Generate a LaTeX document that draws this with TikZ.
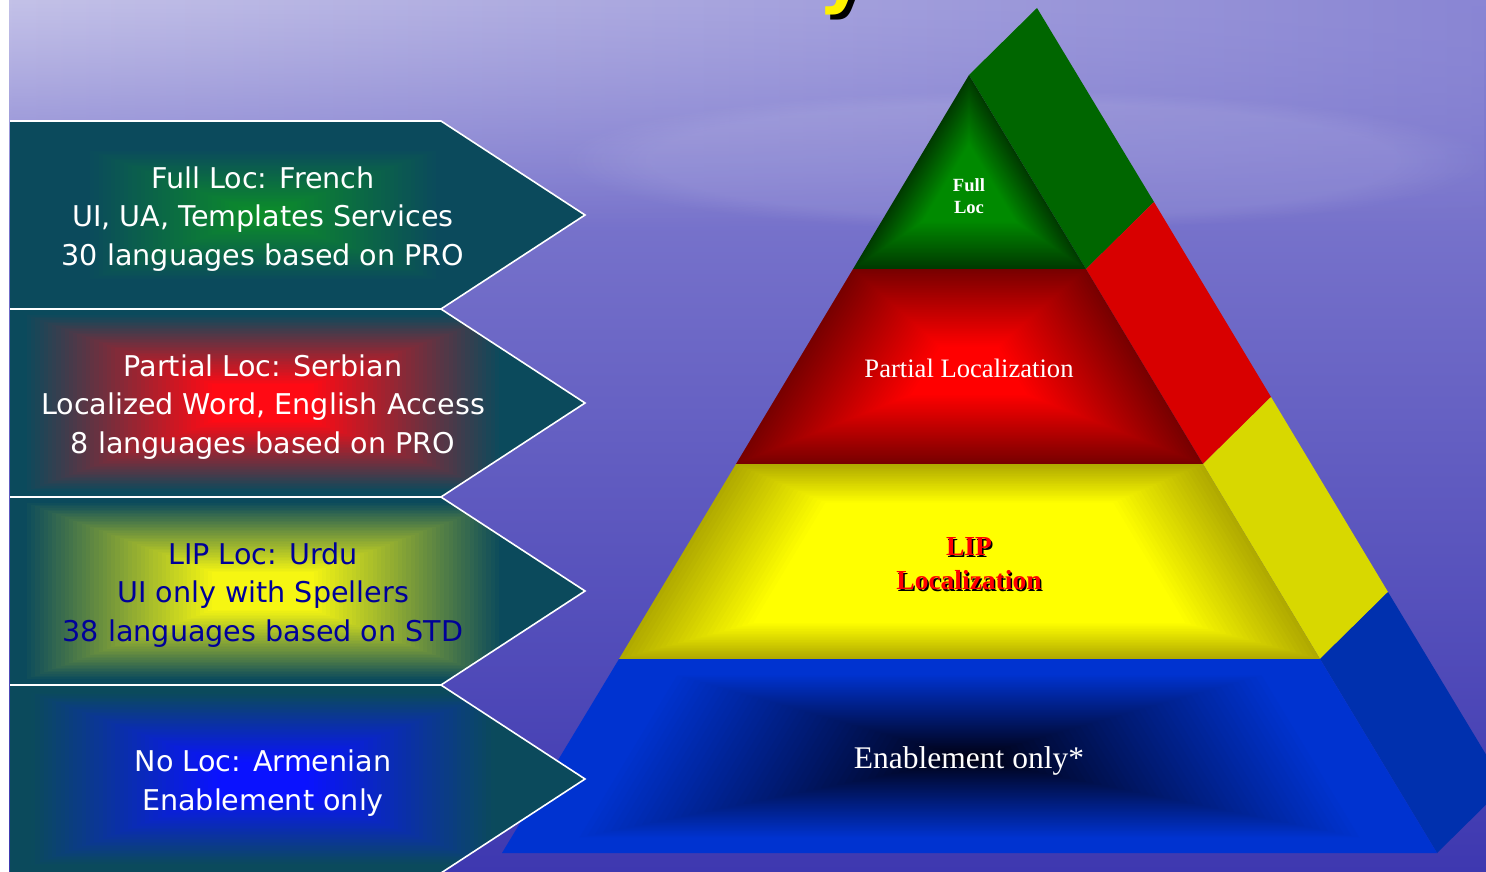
\documentclass[tikz,border=0pt]{standalone}
\usepackage{fontspec}
\usepackage{tikz}
\usetikzlibrary{fadings}

\newfontfamily\boxfont{DejaVu Sans}
\newfontfamily\layerfont{Liberation Serif}

\definecolor{skytop}{HTML}{8A86D4}
\definecolor{skymid}{HTML}{6A65C6}
\definecolor{skybot}{HTML}{3E38B0}
\definecolor{skylight}{HTML}{C4C2E8}
\definecolor{arrowteal}{HTML}{0B4A5C}
\definecolor{boxgreen}{HTML}{0C8C2A}
\definecolor{boxred}{HTML}{FF0A14}
\definecolor{boxyellow}{HTML}{F6F612}
\definecolor{boxblue}{HTML}{0A12FF}
\definecolor{boxnavy}{HTML}{000099}
\definecolor{pgreen}{HTML}{008A00}
\definecolor{pgreendk}{HTML}{003A00}
\definecolor{predd}{HTML}{FF0000}
\definecolor{preddk}{HTML}{780000}
\definecolor{pyel}{HTML}{FFFF00}
\definecolor{pyeldk}{HTML}{B0AA00}
\definecolor{pblue}{HTML}{0033D0}
\definecolor{pbluedk}{HTML}{000010}
\definecolor{sidegreen}{HTML}{006600}
\definecolor{sidered}{HTML}{D80000}
\definecolor{sideyellow}{HTML}{D8D800}
\definecolor{sideblue}{HTML}{0030AE}

% nested copies of a shape, shrinking towards a centre point
% #1 path, #2 centre, #3 edge colour, #4 centre colour, #5/#6 start/end of the blend
\newcommand{\bevelfill}[6]{%
  \foreach \i in {0,...,59}{
    \pgfmathsetmacro{\s}{1-\i/60}
    \pgfmathsetmacro{\p}{max(0,min(100,100*(\i/60-#5)/(#6-#5)))}
    \fill[#4!\p!#3, scale around={\s:#2}] #1;
  }%
}

\tikzset{
  boxtext/.style={align=center, text=white, inner sep=0pt,
    font=\boxfont\fontsize{28.6}{38.5}\selectfont},
  layertext/.style={align=center, text=white, inner sep=0pt,
    font=\layerfont\fontsize{26.6}{30}\selectfont},
  boxline/.style={draw=white, line width=1.6pt, line join=miter}
}

\begin{document}
\begin{tikzpicture}[x=1pt, y=-1pt]
        \useasboundingbox (0,0) rectangle (1486,872);
        \clip (0,0) rectangle (1486,872);

        % Draw the sky background
        \shade[top color=skytop, middle color=skymid, bottom color=skybot]
          (0,0) rectangle (1486,872);
        \shade[left color=skylight, right color=skytop, path fading=south]
          (0,0) rectangle (1486,230);
        \fill[white, opacity=0.09, path fading=circle with fuzzy edge 20 percent] (560,90) rectangle (1486,230);
        \fill[white] (0,0) rectangle (9,872);

        % Draw the side face of the pyramid
        \fill[sidegreen] (969,75) -- (1037,8) -- (1154,202) -- (1086,269) -- cycle;
        \fill[sidered] (1086,269) -- (1154,202) -- (1271,397) -- (1203,464) -- cycle;
        \fill[sideyellow] (1203,464) -- (1271,397) -- (1388,592) -- (1320,659) -- cycle;
        \fill[sideblue] (1320,659) -- (1388,592) -- (1505,786) -- (1437,853) -- cycle;

        % Draw the front layers
        \bevelfill{(969,75) -- (1086,269) -- (853,269) -- cycle}{(969,190)}{pgreendk}{pgreen}{0}{0.6}
        \bevelfill{(853,269) -- (1086,269) -- (1203,464) -- (736,464) -- cycle}{(969,372)}{preddk}{predd}{0}{0.75}
        \bevelfill{(736,464) -- (1203,464) -- (1320,659) -- (619,659) -- cycle}{(969,565)}{pyeldk}{pyel}{0}{0.38}
        \bevelfill{(619,659) -- (1320,659) -- (1437,853) -- (502,853) -- cycle}{(969,758)}{pblue}{pbluedk}{0.15}{1.0}

        % Label the layers
        \node[layertext, font=\layerfont\bfseries\fontsize{18.6}{22}\selectfont] (fulltext) at (969,196) {Full\\Loc};
        \node[layertext] (partialtext) at (969,368) {Partial Localization};
        \node[layertext, text=black, font=\layerfont\bfseries\fontsize{27.5}{34}\selectfont]
          (lipshadow) at (970.5,565.5) {LIP\\Localization};
        \node[layertext, text=red, font=\layerfont\bfseries\fontsize{27.5}{34}\selectfont]
          (liptext) at (969,564) {LIP\\Localization};
        \node[layertext, font=\layerfont\fontsize{31.5}{34}\selectfont] (enabletext) at (969,761) {Enablement only*};

        % Draw the four arrow boxes
        \foreach \top/\mid/\lo/\hi in {121/boxgreen/0.30/0.95, 309/boxred/0.05/0.80,
                                      497/boxyellow/0.05/0.80, 685/boxblue/0.08/0.82}{
          \fill[arrowteal] (10,\top) -- (441,\top) -- (585,\top+94) -- (441,\top+188) -- (10,\top+188) -- cycle;
          \begin{scope}
            \clip (10,\top) -- (441,\top) -- (585,\top+94) -- (441,\top+188) -- (10,\top+188) -- cycle;
            \bevelfill{(10,\top) rectangle (516,\top+188)}{(263,\top+94)}{arrowteal}{\mid}{\lo}{\hi}
          \end{scope}
          \draw[boxline] (10,\top) -- (441,\top) -- (585,\top+94) -- (441,\top+188) -- (10,\top+188);
        }

        % Label the arrow boxes
        \node[boxtext] (fullbox) at (263,219) {Full Loc: French\\UI, UA, Templates Services\\30 languages based on PRO};
        \node[boxtext] (partialbox) at (263,407) {Partial Loc: Serbian\\Localized Word, English Access\\8 languages based on PRO};
        \node[boxtext, text=boxnavy] (lipbox) at (263,595) {LIP Loc: Urdu\\UI only with Spellers\\38 languages based on STD};
        \node[boxtext] (nobox) at (263,783) {No Loc: Armenian\\Enablement only};

        % Tail of the heading letter
        \node[anchor=base west, inner sep=0pt, text=black, font=\boxfont\bfseries\fontsize{72}{80}\selectfont]
          (headshadow) at (823,5) {y};
        \node[anchor=base west, inner sep=0pt, text=yellow, font=\boxfont\bfseries\fontsize{72}{80}\selectfont]
          (headtail) at (818,0) {y};
    \end{tikzpicture}
\end{document}
